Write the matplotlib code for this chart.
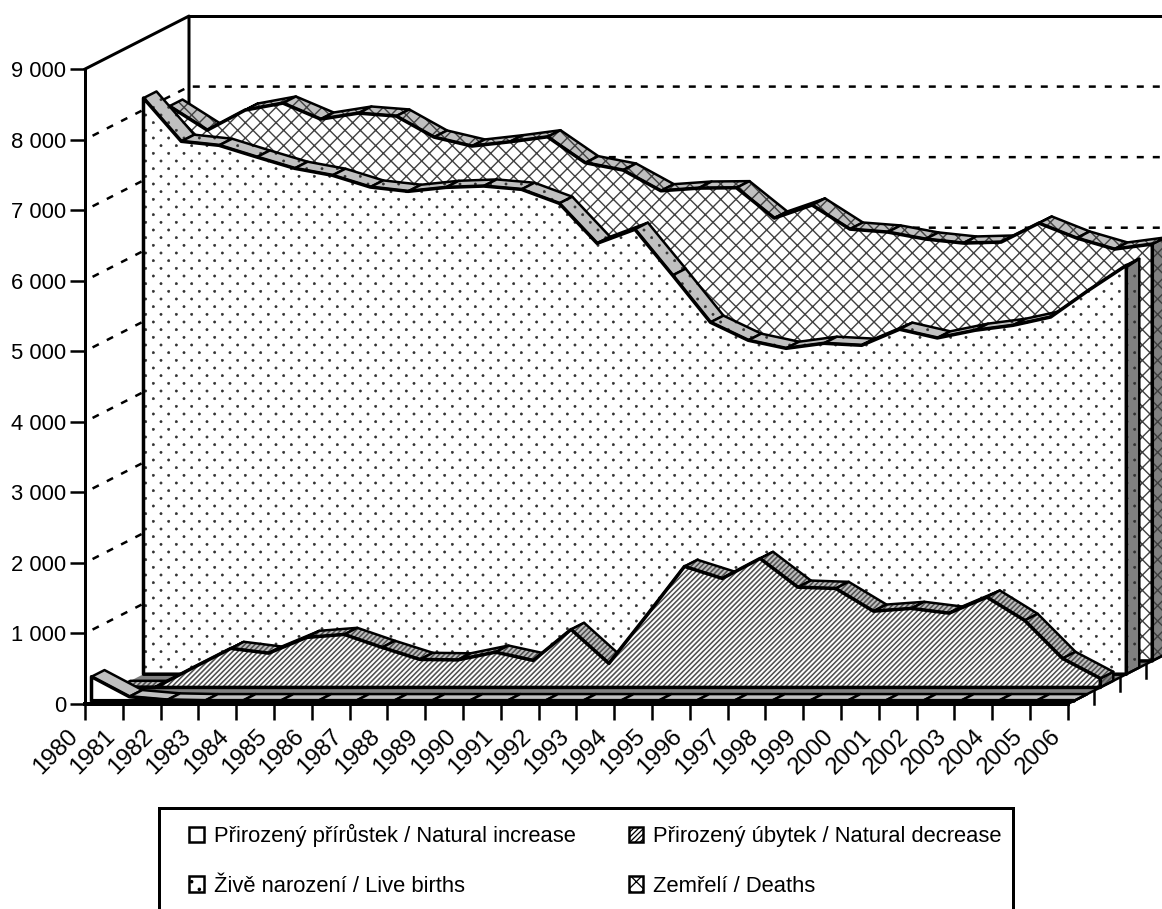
import numpy as np
import matplotlib
matplotlib.use("Agg")
import matplotlib.pyplot as plt
from matplotlib import hatch as mhatch
from matplotlib.patches import Patch, Polygon, Rectangle
from matplotlib.path import Path
from matplotlib.transforms import ScaledTranslation

# values
years = list(range(1980, 2007))
natural_increase = [340, 57, 10, 0, 0, 0, 0, 0, 0, 0, 0, 0, 0, 0, 0, 0, 0, 0, 0, 0, 0, 0, 0, 0, 0, 0, 0]
natural_decrease = [0, 0, 280, 553, 486, 709, 751, 567, 397, 390, 500, 383, 822, 340, 1020, 1715, 1545,
                    1828, 1421, 1403, 1081, 1120, 1053, 1280, 950, 411, 128]
live_births = [8166, 7553, 7496, 7330, 7170, 7071, 6905, 6844, 6900, 6919, 6872, 6674, 6107, 6306, 5654,
               4988, 4733, 4619, 4690, 4662, 4889, 4766, 4875, 4945, 5063, 5441, 5795]
deaths = [7864, 7524, 7808, 7907, 7680, 7765, 7723, 7425, 7298, 7358, 7429, 7061, 6957, 6664, 6702, 6707,
          6277, 6462, 6121, 6079, 5980, 5923, 5937, 6206, 5994, 5838, 5909]
y_ticks = [0, 1000, 2000, 3000, 4000, 5000, 6000, 7000, 8000, 9000]
y_labels = ["0", "1 000", "2 000", "3 000", "4 000", "5 000", "6 000", "7 000", "8 000", "9 000"]
legend_labels = ["Přirozený přírůstek / Natural increase", "Živě narození / Live births",
                 "Přirozený úbytek / Natural decrease", "Zemřelí / Deaths"]

W, H = 1162, 909
DPI = 92  # the hatch tile is one inch, this gives the 15 px cells of the reference
PX = 72 / DPI
PX_PER_YEAR = 37.8
PX_PER_UNIT = 0.07055
X0_PX, Y0_PX = 85, 704
DEPTH_X = 26 / PX_PER_YEAR  # depth of one series slot in years
DEPTH_Y = 13.25 / PX_PER_UNIT  # and in value units
LIGHT = "#c0c0c0"
DARK = "#808080"
FONT_PX = 22


# sparser staggered dots than the stock '.' hatch
class StaggeredDots(mhatch.HatchPatternBase):
    def __init__(self, pattern, density):
        self.n = pattern.count(".") * density
        self.dot = Path.unit_circle()
        count = (self.n + 1) * (self.n + 1) + self.n * self.n if self.n else 0
        self.num_vertices = count * len(self.dot.vertices)

    def set_vertices_and_codes(self, vertices, codes):
        size = len(self.dot.vertices)
        i = 0
        for row in range(2 * self.n + 1):
            cols = self.n + 1 if row % 2 == 0 else self.n
            for col in range(cols):
                cx = col / self.n if row % 2 == 0 else (col + 0.5) / self.n
                vertices[i:i + size] = self.dot.vertices * 0.012 + [cx, row / (2 * self.n)]
                codes[i:i + size] = self.dot.codes
                i += size


mhatch._hatch_types[:] = [StaggeredDots if t is mhatch.SmallFilledCircles else t for t in mhatch._hatch_types]

plt.rcParams["font.family"] = "Liberation Sans"
fig = plt.figure(figsize=(W / DPI, H / DPI), dpi=DPI)
ax = fig.add_axes([0, 0, 1, 1])
ax.set_xlim(1980 - X0_PX / PX_PER_YEAR, 1980 + (W - X0_PX) / PX_PER_YEAR)
ax.set_ylim((Y0_PX - H) / PX_PER_UNIT, Y0_PX / PX_PER_UNIT)

x_end = years[-1] + 4 * DEPTH_X
back_x = 1980 + 4 * DEPTH_X

# gridlines on the side wall and the back wall
for v in y_ticks[1:-1]:
    ax.plot([1980, back_x, x_end], [v, v + 4 * DEPTH_Y, v + 4 * DEPTH_Y], color="k", lw=2.5 * PX,
            ls=(3, (2.8, 3.6)), zorder=0.5)

# floor
ax.add_patch(Polygon([(1980, 0), (2006, 0), (x_end, 4 * DEPTH_Y), (back_x, 4 * DEPTH_Y)],
                     facecolor=DARK, edgecolor="none", zorder=0.8))


def add_shape(pts, face, hatch, hatch_color, hatch_lw, lw):
    if hatch:
        p = Polygon(pts, facecolor=face, edgecolor=hatch_color, hatch=hatch, lw=0, zorder=1)
        p.set_hatch_linewidth(hatch_lw)
        ax.add_patch(p)
    else:
        ax.add_patch(Polygon(pts, facecolor=face, edgecolor="none", lw=0, zorder=1))
    ax.add_patch(Polygon(pts, fill=False, edgecolor="k", lw=lw * PX, joinstyle="round", zorder=1))


def draw_series(slot, values, hatch, hatch_color, hatch_lw):
    # strips and end wall first, the front face hides what turns away from the viewer
    fx = np.array(years) + (slot + 0.25) * DEPTH_X
    base = (slot + 0.25) * DEPTH_Y
    fy = np.array(values) + base
    dx, dy = 0.5 * DEPTH_X, 0.5 * DEPTH_Y
    add_shape([(fx[-1], base), (fx[-1], fy[-1]), (fx[-1] + dx, fy[-1] + dy), (fx[-1] + dx, base + dy)],
              DARK, hatch, hatch_color, hatch_lw, 2.5)
    for i in range(len(fx) - 1):
        add_shape([(fx[i], fy[i]), (fx[i + 1], fy[i + 1]), (fx[i + 1] + dx, fy[i + 1] + dy), (fx[i] + dx, fy[i] + dy)],
                  LIGHT, hatch, hatch_color, hatch_lw, 2.5)
    front = [(fx[0], base)] + list(zip(fx, fy)) + [(fx[-1], base)]
    add_shape(front, "white", hatch, hatch_color, hatch_lw, 3.5)


draw_series(3, deaths, "xx", "#404040", 1.4 * PX)
draw_series(2, live_births, ".", "#303030", 0.6 * PX)
draw_series(1, natural_decrease, "//////", "#505050", 1.6 * PX)
draw_series(0, natural_increase, None, None, 0)

# frame of the 3D box
ax.plot([1980, back_x, back_x], [9000, 9000 + 4 * DEPTH_Y, 4 * DEPTH_Y], color="k", lw=3 * PX, zorder=0.9)
ax.plot([back_x, x_end], [9000 + 4 * DEPTH_Y] * 2, color="k", lw=3 * PX, zorder=0.9)
ax.plot([2006, x_end], [0, 4 * DEPTH_Y], color="k", lw=2.5 * PX, zorder=3)
for j in (1, 2, 3):
    ax.plot([2006 + j * DEPTH_X] * 2, [j * DEPTH_Y, j * DEPTH_Y - 190], color="k", lw=2.5 * PX, zorder=0.7)

# axes
for side in ("top", "right"):
    ax.spines[side].set_visible(False)
ax.spines["left"].set_position(("data", 1980))
ax.spines["left"].set_bounds(0, 9000)
ax.spines["bottom"].set_position(("data", 0))
ax.spines["bottom"].set_bounds(1980, 2006)
ax.spines["left"].set_linewidth(3 * PX)
ax.spines["bottom"].set_linewidth(4 * PX)
ax.set_xticks(years)
ax.set_xticklabels(years, rotation=45, ha="right", va="bottom", rotation_mode="anchor", fontsize=24 * PX)
ax.set_yticks(y_ticks)
ax.set_yticklabels(y_labels, fontsize=FONT_PX * PX)
ax.tick_params(axis="x", length=16 * PX, width=2.5 * PX, pad=16)
ax.tick_params(axis="y", length=15 * PX, width=2.5 * PX, pad=3)
# nudge the year labels a little to the left
nudge = ScaledTranslation(-3 / DPI, 0, fig.dpi_scale_trans)
for lab in ax.get_xticklabels():
    lab.set_transform(lab.get_transform() + nudge)

# legend, its frame runs off the bottom of the picture
fig.add_artist(Rectangle((159 / W, 1 - 912 / H), 854 / W, 104 / H, transform=fig.transFigure, fill=False,
                         edgecolor="k", lw=3 * PX))
handles = [Patch(facecolor="white", edgecolor="k", lw=2.5 * PX),
           Patch(facecolor="white", edgecolor="k", hatch=".", lw=2.5 * PX),
           Patch(facecolor="white", edgecolor="k", hatch="//////", lw=2.5 * PX),
           Patch(facecolor="white", edgecolor="k", hatch="xx", lw=2.5 * PX)]
ax.legend(handles=handles, labels=legend_labels, ncol=2, loc="upper left", frameon=False,
          bbox_to_anchor=(189 / W, 1 - 824 / H), bbox_transform=fig.transFigure, borderpad=0, borderaxespad=0,
          fontsize=FONT_PX * PX, handlelength=0.68, handleheight=0.68, handletextpad=0.45, columnspacing=2.4,
          labelspacing=1.3)

fig.savefig("out.png", dpi=DPI)
